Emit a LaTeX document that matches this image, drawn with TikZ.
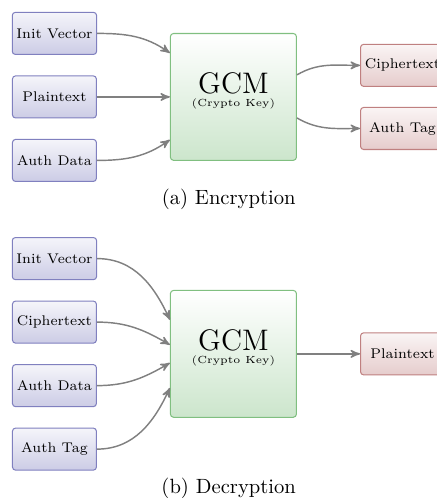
\documentclass[tikz,border=0pt]{standalone}
\usetikzlibrary{arrows, positioning}

\begin{document}
\begin{tikzpicture}[
    ->,
    >=stealth',
    auto,
    node distance=9.9pt,
    every edge/.style={draw=gray, line width=0.7pt},
    inbox/.style={rectangle, rounded corners=1.5pt, line width=0.5pt,
        draw=blue!50!black!50, top color=blue!50!black!4, bottom color=blue!50!black!20,
        minimum width=40.7pt, minimum height=20.4pt, inner xsep=2pt, font=\fontsize{6.8}{8}\selectfont},
    outbox/.style={inbox, draw=red!50!black!50, top color=red!50!black!4, bottom color=red!50!black!20},
    cipher/.style={inbox, draw=green!50!black!50, top color=white, bottom color=green!50!black!20,
        minimum width=61.1pt, minimum height=61.5pt, align=center, text depth=6.8pt, font=\Large},
    caption/.style={font=\normalsize}]
]
    \useasboundingbox (-113.2pt,47pt) rectangle (98.7pt,-194.5pt);

    % (a) encryption
    \node[cipher]                                       (Enc)   {GCM\\[-11.8pt]\tiny(Crypto Key)};
    \node[inbox, left=35.4pt of Enc]                    (PtA)   {Plaintext};
    \node[inbox, above=of PtA]                          (IvA)   {Init Vector};
    \node[inbox, below=of PtA]                          (AdA)   {Auth Data};
    \node[outbox, right=30.6pt of Enc, yshift=15.3pt]   (CtA)   {Ciphertext};
    \node[outbox, right=30.6pt of Enc, yshift=-15.3pt]  (AtA)   {Auth Tag};
    \node[caption, below=0pt of AdA, xshift=84.5pt]     (CapA)  {(a) Encryption};

    \path
    (IvA)   edge [out=0, in=145]    ([yshift=21.3pt]Enc.west)
    (PtA)   edge                    (Enc)
    (AdA)   edge [out=0, in=-145]   ([yshift=-20.8pt]Enc.west)
    ([yshift=10.7pt]Enc.east)   edge [out=30, in=180]   (CtA.west)
    ([yshift=-10.2pt]Enc.east)  edge [out=-30, in=180]  (AtA.west);

    % (b) decryption
    \node[cipher, below=62.6pt of Enc]                  (Dec)   {GCM\\[-11.8pt]\tiny(Crypto Key)};
    \node[inbox, left=35.4pt of Dec, yshift=15.4pt]     (CtB)   {Ciphertext};
    \node[inbox, above=of CtB]                          (IvB)   {Init Vector};
    \node[inbox, below=of CtB]                          (AdB)   {Auth Data};
    \node[inbox, below=of AdB]                          (AtB)   {Auth Tag};
    \node[outbox, right=30.6pt of Dec]                  (PtB)   {Plaintext};
    \node[caption, below=0pt of AtB, xshift=84.5pt]     (CapB)  {(b) Decryption};

    \path
    (IvB)   edge [out=0, in=115]    ([yshift=16.5pt]Dec.west)
    (CtB)   edge [out=0, in=150]    ([yshift=4.4pt]Dec.west)
    (AdB)   edge [out=0, in=-150]   ([yshift=-4.4pt]Dec.west)
    (AtB)   edge [out=0, in=-115]   ([yshift=-16.5pt]Dec.west)
    (Dec)   edge                    (PtB);
\end{tikzpicture}
\end{document}
